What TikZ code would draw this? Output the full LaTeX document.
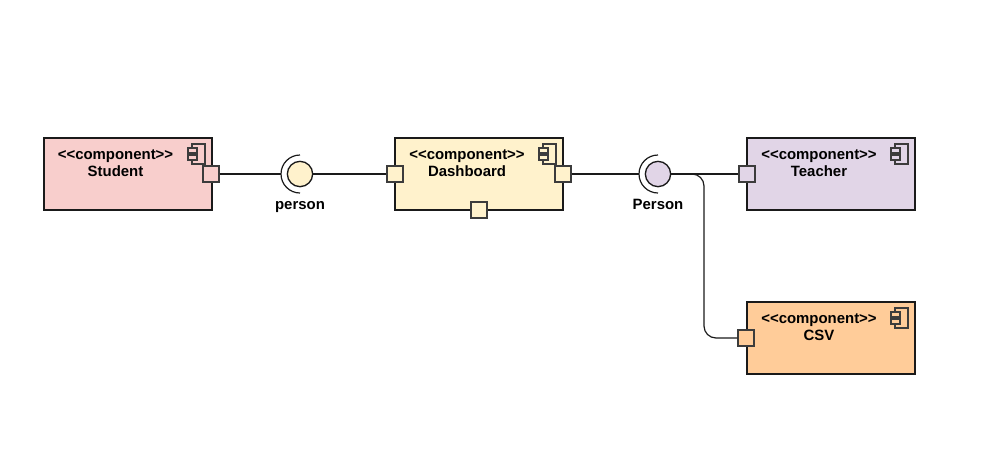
\documentclass[tikz,border=0pt]{standalone}
\usepackage{fontspec}
\setmainfont{Liberation Sans}
\definecolor{studentfill}{HTML}{F8CECC}
\definecolor{dashfill}{HTML}{FFF2CC}
\definecolor{teacherfill}{HTML}{E1D5E7}
\definecolor{csvfill}{HTML}{FFCC99}
\definecolor{edgecol}{HTML}{1A1A1A}
\tikzset{
x=0.75pt, y=-0.75pt, % one unit is one pixel of the reference
component/.style={draw=edgecol, line width=1.2pt, minimum width=126pt, minimum height=54pt, inner sep=0pt}, % the big boxes
port/.style={draw=edgecol!85, line width=1pt, minimum size=12pt, inner sep=0pt}, % small squares on the box edges
ball/.style={circle, draw=edgecol, line width=1pt, minimum size=19pt, inner sep=0pt}, % provided interface
caption/.style={font=\bfseries\fontsize{11.2}{12.75}\selectfont, align=center, inner sep=0pt}, % all texts
wire/.style={draw=edgecol, line width=0.9pt}, % connectors
}

\begin{document}
\begin{tikzpicture}
	\useasboundingbox (0,0) rectangle (1000,458);
	\node[component, fill=studentfill] (student) at (128,174) {};
	\node[component, fill=dashfill] (dashboard) at (479,174) {};
	\node[component, fill=teacherfill] (teacher) at (831,174) {};
	\node[component, fill=csvfill] (csv) at (831,338) {};
	\node[caption] (studenttext) at (115.5,163.3) {<{}<component>{}>\\Student};
	\node[caption] (dashtext) at (467,163.3) {<{}<component>{}>\\Dashboard};
	\node[caption] (teachertext) at (819,163.3) {<{}<component>{}>\\Teacher};
	\node[caption] (csvtext) at (819,327.3) {<{}<component>{}>\\CSV};
	% component icons in the top right corners
	\foreach \ix/\iy/\icol in {197/154/studentfill, 548/154/dashfill, 900/154/teacherfill, 900/318/csvfill}
	{
		\draw[edgecol!85, line width=0.8pt] (\ix-5,\iy-10) rectangle (\ix+8,\iy+10);
		\draw[edgecol!85, line width=0.8pt, fill=\icol] (\ix-9,\iy-6) rectangle (\ix,\iy-1);
		\draw[edgecol!85, line width=0.8pt, fill=\icol] (\ix-9,\iy+1) rectangle (\ix,\iy+6);
	}
	\node[port, fill=studentfill] (studentout) at (211,174) {};
	\node[port, fill=dashfill] (dashin) at (395,174) {};
	\node[port, fill=dashfill] (dashout) at (563,174) {};
	\node[port, fill=dashfill] (dashbottom) at (479,210) {};
	\node[port, fill=teacherfill] (teacherin) at (747,174) {};
	\node[port, fill=csvfill] (csvin) at (746,338) {};
	\node[ball, fill=dashfill] (personball) at (300,174) {};
	\node[ball, fill=teacherfill] (Personball) at (658,174) {};
	\node[caption, anchor=base] (personlabel) at (300,209.5) {person};
	\node[caption, anchor=base] (Personlabel) at (658,209.5) {Person};
	% the sockets round the balls
	\draw[wire] (300,155) arc[start angle=270, end angle=90, radius=19];
	\draw[wire] (658,155) arc[start angle=270, end angle=90, radius=19];
	\coordinate (personsocket) at (281,174);
	\coordinate (Personsocket) at (639,174);
	\coordinate (csvbend) at (704,174);
	\draw[wire] (studentout) -- (personsocket);
	\draw[wire] (personball) -- (dashin);
	\draw[wire] (dashout) -- (Personsocket);
	\draw[wire] (Personball) -- (teacherin);
	\draw[wire, rounded corners=9pt] (Personball.east) -- (csvbend) |- (csvin.west);
\end{tikzpicture}
\end{document}
